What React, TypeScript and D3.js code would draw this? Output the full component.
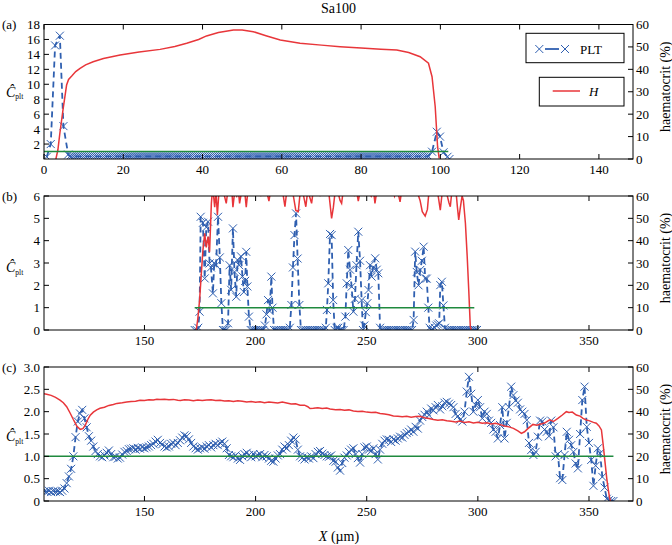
import React from "react";
import * as d3 from "d3";

type Pt = [number, number];

const FONT = "Liberation Serif, DejaVu Serif, serif";
const BLUE = "#2f5fb0";
const RED = "#e8363a";
const GREEN = "#1f8a3e";

const titleText = "Sa100";
const panelLabels = ["(a)", "(b)", "(c)"];
const legendLabels = ["PLT", "H"];
const rightAxisLabel = "haematocrit (%)";

// ---------- ticks ----------
const xTicksA = [0, 20, 40, 60, 80, 100, 120, 140];
const xTicksBC = [150, 200, 250, 300, 350];
const cTicksA = [2, 4, 6, 8, 10, 12, 14, 16, 18];
const cTicksB = [0, 1, 2, 3, 4, 5, 6];
const cTicksC = [0, 0.5, 1.0, 1.5, 2.0, 2.5, 3.0];
const hTicks = [0, 10, 20, 30, 40, 50, 60];

// ---------- panel (a) ----------
const pltAHead: Pt[] = [[0.7, 0.3], [1.7, 2.0], [2.8, 15.2], [4.0, 16.5], [4.9, 4.4], [6.1, 0.6]];
const pltARunStart = 6.5;
const pltARunStep = 0.5;
const pltARun = [
  0.35, 0.35, 0.35, 0.35, 0.35, 0.35, 0.35, 0.35, 0.35, 0.35, 0.35, 0.35, 0.35, 0.35, 0.35, 0.35, 0.35, 0.35, 0.35, 0.35,
  0.35, 0.35, 0.35, 0.35, 0.35, 0.35, 0.35, 0.35, 0.35, 0.35, 0.35, 0.35, 0.35, 0.35, 0.35, 0.35, 0.35, 0.35, 0.35, 0.35,
  0.35, 0.35, 0.35, 0.35, 0.35, 0.35, 0.35, 0.35, 0.35, 0.35, 0.35, 0.35, 0.35, 0.35, 0.35, 0.35, 0.35, 0.35, 0.35, 0.35,
  0.35, 0.35, 0.35, 0.35, 0.35, 0.35, 0.35, 0.35, 0.35, 0.35, 0.35, 0.35, 0.35, 0.35, 0.35, 0.35, 0.35, 0.35, 0.35, 0.35,
  0.35, 0.35, 0.35, 0.35, 0.35, 0.35, 0.35, 0.35, 0.35, 0.35, 0.35, 0.35, 0.35, 0.35, 0.35, 0.35, 0.35, 0.35, 0.35, 0.35,
  0.35, 0.35, 0.35, 0.35, 0.35, 0.35, 0.35, 0.35, 0.35, 0.35, 0.35, 0.35, 0.35, 0.35, 0.35, 0.35, 0.35, 0.35, 0.35, 0.35,
  0.35, 0.35, 0.35, 0.35, 0.35, 0.35, 0.35, 0.35, 0.35, 0.35, 0.35, 0.35, 0.35, 0.35, 0.35, 0.35, 0.35, 0.35, 0.35, 0.35,
  0.35, 0.35, 0.35, 0.35, 0.35, 0.35, 0.35, 0.35, 0.35, 0.35, 0.35, 0.35, 0.35, 0.35, 0.35, 0.35, 0.35, 0.35, 0.35, 0.35,
  0.35, 0.35, 0.35, 0.35, 0.35, 0.35, 0.35, 0.35, 0.35, 0.35, 0.35, 0.35, 0.35, 0.35, 0.35, 0.35, 0.35, 0.35, 0.35, 0.35,
  0.35, 0.35,
];
const pltATail: Pt[] = [[97.9, 0.98], [99.1, 3.65], [99.9, 3.0], [100.8, 0.9], [101.8, 0.3], [102.3, 0]];
const hctA: Pt[] = [
  [3.0, 0], [3.5, 4], [4.0, 11.5], [4.8, 22], [5.7, 33], [6.2, 35.5], [7.0, 37], [8, 39], [9.1, 40.4],
  [10.5, 42], [12.4, 43.4], [15, 44.8], [19.2, 46.4], [24, 47.7], [29.3, 48.9], [33, 50.2], [36, 51.6],
  [39, 53.3], [41, 54.9], [44, 56.4], [47.8, 57.5], [50, 57.5], [52.8, 56.8], [56, 55], [59.6, 53.1],
  [64.6, 51.6], [70, 50.8], [74.7, 50.1], [80, 49.5], [85, 49], [89, 48.6], [92, 47.5], [94.9, 45.6],
  [97, 42.7], [97.9, 36.7], [98.7, 23.3], [99.3, 5.5], [99.7, 0.3],
];
const unityA: Pt[] = [[0, 1], [102, 1]];

// ---------- panel (b) ----------
const pltB: Pt[] = [
  [172.6, 0], [173.5, 0], [174.2, 0.1], [174.8, 0.82], [175.3, 5.07], [176.3, 4.8], [177.1, 2.31], [177.8, 4.6],
  [178.6, 4.85], [179.3, 2.98], [179.9, 2.8], [180.8, 1.64], [181.4, 3.0], [182.2, 2.9], [183.1, 5.07], [183.9, 3.25],
  [184.6, 1.2], [185.3, 0], [186, 0], [186.8, 0], [187.6, 0.3], [188.3, 2.9], [189, 1.8], [189.8, 4.55], [190.5, 2.6],
  [191.3, 1.49], [191.9, 3.13], [192.6, 2.9], [193.4, 3.3], [194.1, 2.4], [194.7, 1.7], [195.3, 2.2], [195.8, 3.5],
  [196.3, 1.95], [197, 0.6], [197.8, 0], [198.6, 0], [199.4, 0], [200.2, 0], [201, 0], [201.8, 0], [202.6, 0],
  [203.4, 0], [204.2, 0.2], [204.9, 0.7], [205.6, 1.34], [206.3, 0.85], [207.1, 2.39], [207.6, 1.0], [208.3, 0],
  [209.1, 0], [209.9, 0], [210.7, 0], [211.5, 0], [212.3, 0], [213.1, 0], [213.9, 0], [214.7, 0], [215.4, 0.1],
  [216.1, 1.12], [216.8, 2.8], [217.5, 4.25], [218.2, 5.22], [218.9, 3.2], [219.7, 1.12], [220.4, 0], [221.2, 0],
  [222, 0], [222.8, 0], [223.6, 0], [224.4, 0], [225.2, 0], [226, 0], [226.8, 0], [227.6, 0], [228.4, 0], [229.2, 0],
  [230, 0], [230.8, 0], [231.6, 0.1], [232.1, 0.9], [232.7, 2.09], [233.5, 4.3], [234.2, 4.25], [234.9, 1.34],
  [235.6, 0], [236.4, 0.1], [237.2, 0.1], [238, 0], [238.8, 0], [239.6, 0], [240.4, 0.6], [241, 2.09], [241.7, 3.58],
  [242.5, 2.7], [243.2, 1.94], [244, 0.82], [244.7, 1.4], [245.4, 2.9], [246.2, 4.4], [247, 3.1], [247.7, 1.34],
  [248.3, 0], [248.9, 0.2], [249.6, 0.8], [250.3, 1.2], [250.8, 1.79], [251.5, 2.9], [252.2, 2.39], [252.9, 2.8],
  [253.8, 3.21], [254.5, 2.7], [255.2, 2.54], [256, 0.1], [256.8, 0], [257.6, 0], [258.4, 0], [259.2, 0], [260, 0],
  [260.8, 0], [261.6, 0], [262.4, 0], [263.2, 0], [264, 0], [264.8, 0], [265.6, 0], [266.4, 0], [267.2, 0], [268, 0],
  [268.8, 0], [269.6, 0], [270.4, 0], [271.1, 0.45], [271.8, 3.51], [272.5, 2.6], [273.3, 2.0], [274.1, 2.69],
  [274.8, 3.1], [275.6, 3.73], [276.3, 2.31], [277, 2.3], [277.7, 1.0], [278.3, 0.1], [279, 0], [279.8, 0.05],
  [280.6, 0.1], [281.3, 0.2], [282, 0.25], [282.6, 0.3], [283.1, 2.01], [283.8, 2.16], [284.5, 1.1], [285.2, 0.1],
  [286, 0], [286.8, 0], [287.6, 0], [288.4, 0], [289.2, 0], [290, 0], [290.8, 0], [291.6, 0], [292.4, 0], [293.2, 0],
  [294, 0], [294.8, 0], [295.6, 0], [296.4, 0], [297.2, 0], [298, 0], [298.8, 0], [299.6, 0],
];
const hctB: Pt[] = [
  [173.3, 0], [174, 5], [174.8, 13.4], [175.5, 24], [176.3, 35.8], [177.1, 43.3], [177.8, 37], [178.6, 41.8],
  [179.3, 35], [180.1, 56.7], [180.7, 64], [181.6, 55], [182.2, 62], [182.8, 51.5], [183.6, 63], [184.5, 61],
  [185.3, 64], [186, 60], [186.8, 56.7], [187.6, 63], [188.5, 61], [189.2, 64], [189.8, 55], [190.6, 62],
  [191.5, 60], [192.2, 63], [192.8, 56.7], [193.7, 62], [194.5, 65], [195.2, 61], [195.8, 55], [196.6, 63],
  [197.5, 66], [198.5, 64], [199.5, 62], [200.5, 65], [201.5, 63], [202.3, 60], [203, 64], [204, 66], [205, 62],
  [206, 57.7], [207, 64], [208, 62], [209, 65], [210, 63], [211, 61], [212, 63], [213.2, 55.2], [214, 62],
  [215, 65], [216, 63], [217, 60], [218.1, 53.5], [219.2, 53], [220, 61], [221, 63], [222, 58], [222.6, 55.2],
  [223.4, 62], [224.2, 60], [225.2, 56.7], [226, 63], [227, 61], [228, 65], [229, 60], [230, 64], [231, 62],
  [232, 66], [233, 61], [234.2, 50], [235, 55], [236, 64], [237, 62], [238, 58], [238.7, 56.7], [239.5, 63],
  [240.5, 61], [241.5, 65], [242.5, 62], [243.5, 64], [244.5, 60], [245.3, 63], [246.2, 57.7], [247, 62],
  [248, 65], [249, 61], [250, 64], [251, 62], [252, 60], [253, 63], [253.7, 56.7], [254.5, 62], [255.5, 65],
  [256.5, 63], [257.5, 61], [258.5, 64], [259.5, 62], [260.5, 66], [261.5, 63], [262.5, 60], [263.5, 64],
  [264.2, 61], [265, 57.4], [265.8, 63], [266.8, 65], [267.8, 62], [268.8, 64], [270, 62], [271, 65], [272, 63],
  [273, 61], [274, 58], [275, 53], [276.3, 51], [277.3, 54], [278, 62], [279, 64], [280, 62], [281, 65],
  [282, 61], [283.1, 53.7], [284, 62], [285, 64], [286, 61], [287, 57], [287.6, 55.2], [288.4, 63], [289.2, 61],
  [290, 64], [290.8, 55], [291.4, 49.3], [292, 54], [292.9, 60], [293.5, 58], [294.4, 47.8], [295.2, 33],
  [295.9, 17.9], [296.6, 1.5], [297, 0],
];
const unityB: Pt[] = [[172.6, 1], [298.4, 1]];

// ---------- panel (c) ----------
const pltCStart = 105;
const pltCStep = 1;
const pltC = [
  0.22, 0.21, 0.23, 0.2, 0.22, 0.21, 0.22, 0.2, 0.23, 0.28,
  0.4, 0.55, 0.72, 1.0, 1.43, 1.78, 1.96, 2.04, 1.85, 1.65,
  1.45, 1.35, 1.22, 1.12, 1.05, 1.0, 0.98, 1.02, 1.08, 1.13,
  1.05, 0.98, 0.99, 0.95, 0.97, 1.04, 1.1, 1.12, 1.16, 1.17,
  1.18, 1.15, 1.19, 1.17, 1.2, 1.18, 1.2, 1.22, 1.25, 1.28,
  1.33, 1.37, 1.3, 1.27, 1.22, 1.2, 1.22, 1.28, 1.3, 1.25,
  1.3, 1.36, 1.42, 1.47, 1.45, 1.38, 1.3, 1.22, 1.18, 1.15,
  1.18, 1.2, 1.17, 1.22, 1.25, 1.2, 1.25, 1.28, 1.25, 1.3,
  1.33, 1.28, 1.18, 1.03, 1.0, 0.98, 1.02, 0.95, 0.92, 1.0,
  1.05, 1.08, 1.03, 0.98, 1.05, 1.0, 1.02, 1.05, 0.98, 1.03,
  1.0, 0.95, 0.9, 0.88, 0.95, 1.02, 1.05, 1.15, 1.22, 1.18,
  1.25, 1.35, 1.42, 1.38, 1.15, 1.0, 0.97, 0.93, 0.98, 0.95,
  1.0, 0.96, 1.05, 1.1, 1.12, 1.06, 1.03, 1.0, 0.99, 1.02,
  0.9, 0.88, 0.75, 0.68, 0.85, 0.97, 1.02, 1.1, 1.15, 1.18,
  1.05, 0.96, 0.86, 1.05, 1.2, 1.22, 1.15, 1.12, 1.18, 1.05,
  0.93, 1.15, 1.28, 1.35, 1.38, 1.37, 1.32, 1.38, 1.35, 1.4,
  1.44, 1.42, 1.48, 1.52, 1.55, 1.6, 1.55, 1.66, 1.62, 1.8,
  1.88, 1.93, 2.0, 1.92, 2.07, 2.03, 2.1, 2.15, 2.05, 2.12,
  2.2, 2.22, 2.18, 2.15, 2.1, 1.95, 1.9, 1.82, 1.78, 2.0,
  2.45, 2.78, 2.4, 2.0, 2.15, 2.26, 2.1, 1.85, 2.0, 1.95,
  1.8, 1.75, 1.6, 1.55, 1.4, 1.7, 2.1, 1.4, 1.75, 2.1,
  2.56, 2.37, 2.25, 2.2, 2.05, 2.0, 1.95, 1.81, 1.3, 1.14,
  1.03, 1.1, 1.44, 1.8, 1.78, 1.6, 1.55, 1.45, 1.8, 1.65,
  1.0, 1.05, 0.51, 0.47, 1.03, 1.55, 1.37, 1.25, 1.1, 0.84,
  0.73, 1.5, 2.26, 2.56, 1.66, 1.3, 0.92, 0.34, 0.79, 1.18,
  1.07, 0.54, 0.3, 0.05, 0.02, 0, 0,
];
const hctC: Pt[] = [
  [104.8, 48.0], [106, 47.8], [108, 47.3], [110, 46.4], [112, 45.2], [113.5, 44.0], [115, 42.2], [116.6, 39.3],
  [118, 36.5], [119.6, 33.5], [121.1, 32.1], [122.3, 32.4], [123.4, 34.0], [124.5, 36.5], [125.6, 38.4],
  [127, 39.8], [128.5, 40.8], [130, 41.5], [132, 42.0], [134, 42.8], [136, 43.2], [137.6, 43.7], [140, 44.0],
  [142, 44.3], [144, 44.6], [146, 44.7], [148, 45.1], [150, 45.0], [152, 45.3], [154, 45.2], [155.6, 45.6],
  [157, 45.4], [159, 45.6], [161, 45.3], [163, 45.5], [165, 45.1], [166.2, 45.0], [168, 45.3], [170, 45.2],
  [172, 44.9], [174, 45.2], [176, 45.0], [178, 45.2], [180, 45.3], [182, 45.0], [184, 45.1], [186, 44.8],
  [188, 44.9], [190, 44.6], [192, 44.9], [194, 44.7], [196, 44.3], [198, 44.5], [200, 44.2], [202, 44.4],
  [204, 44.0], [206, 44.3], [208, 44.1], [210, 43.9], [212, 44.3], [214, 43.9], [216, 43.4], [218, 43.5],
  [220, 42.9], [222, 42.9], [223.5, 42.2], [224.5, 41.4], [226, 41.5], [228, 41.7], [230, 41.4], [232, 41.6],
  [233.5, 41.2], [236, 40.9], [238, 41.0], [240, 40.6], [242, 40.8], [244, 40.3], [246, 40.1], [248, 40.2],
  [250, 39.8], [252, 39.6], [254, 39.7], [256, 39.2], [258, 39.0], [260, 38.6], [262, 38.1], [264, 37.9],
  [266, 37.7], [268, 37.9], [270, 37.5], [272, 37.8], [274, 37.9], [276, 37.3], [278, 36.9], [280, 36.5],
  [282, 36.2], [284, 36.4], [286, 35.9], [288, 35.7], [290, 35.4], [292, 35.8], [294, 35.2], [296, 35.5],
  [298, 34.9], [300, 35.3], [302, 34.8], [304, 35.0], [306, 34.5], [308, 34.8], [310, 34.2], [312, 33.6],
  [314, 33.2], [316, 32.5], [318, 31.4], [319.6, 30.3], [321, 31.0], [322.5, 32.4], [324.8, 34.3], [326.5, 33.9],
  [328, 34.4], [330, 34.9], [332.3, 36.3], [334, 35.6], [336, 37.0], [338, 38.5], [339.8, 40.0], [341, 39.6],
  [342.5, 39.8], [344.3, 38.5], [346, 38.0], [347.3, 37.0], [348.8, 36.3], [350, 36.0], [352, 35.2],
  [353.3, 34.8], [354.5, 33.6], [355.6, 31.8], [356.4, 25], [357.1, 18.4], [358, 10], [358.7, 5], [359.3, 1.2],
  [359.7, 0],
];
const unityC: Pt[] = [[104.8, 1], [361, 1]];

// ---------- helpers ----------
function runPoints(start: number, step: number, vals: number[]): Pt[] {
  return vals.map((v, i) => [start + i * step, v] as Pt);
}

const pltA: Pt[] = [...pltAHead, ...runPoints(pltARunStart, pltARunStep, pltARun), ...pltATail];
const pltCPts: Pt[] = runPoints(pltCStart, pltCStep, pltC);

const L = 44;
const R = 633;

interface PanelProps {
  id: string;
  top: number;
  bottom: number;
  xDomain: [number, number];
  cDomain: [number, number];
  xTicks: number[];
  cTicks: number[];
  cFmt: (v: number) => string;
  plt: Pt[];
  hct: Pt[];
  unity: Pt[];
  label: string;
  cLabelY: number;
}

const Marker = ({ x, y }: { x: number; y: number }) => (
  <path d={`M${x - 4},${y - 4}L${x + 4},${y + 4}M${x - 4},${y + 4}L${x + 4},${y - 4}`} stroke={BLUE} strokeWidth={1} fill="none" />
);

const txt = { fontFamily: FONT };

function Panel(p: PanelProps) {
  const x = d3.scaleLinear().domain(p.xDomain).range([L, R]);
  const yc = d3.scaleLinear().domain(p.cDomain).range([p.bottom, p.top]);
  const yh = d3.scaleLinear().domain([0, 60]).range([p.bottom, p.top]);
  const lineC = d3.line<Pt>().x((d) => x(d[0])).y((d) => yc(d[1]));
  const lineH = d3.line<Pt>().x((d) => x(d[0])).y((d) => yh(d[1]));
  const mid = (p.top + p.bottom) / 2;
  const tk = 5;
  return (
    <g>
      <defs>
        <clipPath id={p.id}>
          <rect x={L} y={p.top} width={R - L} height={p.bottom - p.top} />
        </clipPath>
      </defs>
      <g clipPath={`url(#${p.id})`}>
        <path d={lineC(p.plt) || ""} fill="none" stroke={BLUE} strokeWidth={1.8} strokeDasharray="6,4" />
        {p.plt.map((d, i) => (
          <Marker key={i} x={x(d[0])} y={yc(d[1])} />
        ))}
        <path d={lineH(p.hct) || ""} fill="none" stroke={RED} strokeWidth={1.5} />
        <path d={lineC(p.unity) || ""} fill="none" stroke={GREEN} strokeWidth={1.5} />
      </g>
      <rect x={L} y={p.top} width={R - L} height={p.bottom - p.top} fill="none" stroke="#000" strokeWidth={1} />
      {p.xTicks.map((t) => (
        <g key={"x" + t}>
          <line x1={x(t)} x2={x(t)} y1={p.bottom} y2={p.bottom - tk} stroke="#000" />
          <line x1={x(t)} x2={x(t)} y1={p.top} y2={p.top + tk} stroke="#000" />
          <text x={x(t)} y={p.bottom + 15} textAnchor="middle" style={txt} fontSize={13}>
            {t}
          </text>
        </g>
      ))}
      {p.cTicks.map((t) => (
        <g key={"c" + t}>
          <line x1={L} x2={L + tk} y1={yc(t)} y2={yc(t)} stroke="#000" />
          <text x={40} y={yc(t) + 4.5} textAnchor="end" style={txt} fontSize={13}>
            {p.cFmt(t)}
          </text>
        </g>
      ))}
      {hTicks.map((t) => (
        <g key={"h" + t}>
          <line x1={R} x2={R - tk} y1={yh(t)} y2={yh(t)} stroke="#000" />
          <text x={636} y={yh(t) + 4.5} textAnchor="start" style={txt} fontSize={13}>
            {t}
          </text>
        </g>
      ))}
      <text x={2} y={p.top + 4.5} style={txt} fontSize={13}>
        {p.label}
      </text>
      <text x={6} y={p.cLabelY} style={txt} fontSize={14}>
        <tspan fontStyle="italic">Ĉ</tspan>
        <tspan fontSize={7.5} dy={2.5}>plt</tspan>
      </text>
      <text
        transform={`translate(670,${mid - 5}) rotate(-90)`}
        textAnchor="middle"
        style={txt}
        fontSize={14}
      >
        {rightAxisLabel}
      </text>
    </g>
  );
}

export default function App() {
  const fmtInt = (v: number) => String(v);
  const fmtC = (v: number) => (v === 0 ? "0" : v.toFixed(1));
  return (
    <svg
      width={672}
      height={545}
      viewBox="0 0 672 545"
      style={{ position: "absolute", left: 0, top: 0, background: "#fff" }}
    >
      <rect x={0} y={0} width={672} height={545} fill="#fff" />
      <text x={338.5} y={13} textAnchor="middle" style={txt} fontSize={14}>
        {titleText}
      </text>
      <Panel
        id="clipA"
        top={24.5}
        bottom={159}
        xDomain={[0, 148.6]}
        cDomain={[0, 18]}
        xTicks={xTicksA}
        cTicks={cTicksA}
        cFmt={fmtInt}
        plt={pltA}
        hct={hctA}
        unity={unityA}
        label={panelLabels[0]}
        cLabelY={96.5}
      />
      <Panel
        id="clipB"
        top={196}
        bottom={330}
        xDomain={[104.8, 369.8]}
        cDomain={[0, 6]}
        xTicks={xTicksBC}
        cTicks={cTicksB}
        cFmt={fmtInt}
        plt={pltB}
        hct={hctB}
        unity={unityB}
        label={panelLabels[1]}
        cLabelY={272}
      />
      <Panel
        id="clipC"
        top={367}
        bottom={501}
        xDomain={[104.8, 369.8]}
        cDomain={[0, 3]}
        xTicks={xTicksBC}
        cTicks={cTicksC}
        cFmt={fmtC}
        plt={pltCPts}
        hct={hctC}
        unity={unityC}
        label={panelLabels[2]}
        cLabelY={441}
      />
      {/* legends in panel (a) */}
      <rect x={526} y={33.3} width={98} height={29.4} fill="#fff" stroke="#000" strokeWidth={1} />
      <line x1={545} x2={559} y1={49} y2={49} stroke={BLUE} strokeWidth={1.8} />
      <Marker x={539.3} y={49} />
      <Marker x={565} y={49} />
      <text x={580} y={54} style={txt} fontSize={13}>
        {legendLabels[0]}
      </text>
      <rect x={539.3} y={77.3} width={84.7} height={28.7} fill="#fff" stroke="#000" strokeWidth={1} />
      <line x1={552.7} x2={580} y1={91} y2={91} stroke={RED} strokeWidth={1.5} />
      <text x={589} y={96} style={txt} fontSize={13} fontStyle="italic">
        {legendLabels[1]}
      </text>
      <text x={339} y={541} textAnchor="middle" style={txt} fontSize={14}>
        <tspan fontStyle="italic">X</tspan> (µm)
      </text>
    </svg>
  );
}
